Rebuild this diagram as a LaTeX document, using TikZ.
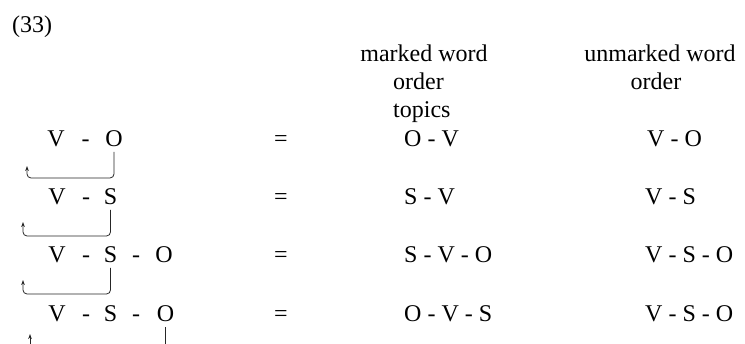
\documentclass[tikz,border=0pt]{standalone}
\usepackage{fontspec}
\setmainfont{Liberation Serif}
\usetikzlibrary{arrows.meta}
\tikzset{
  txt/.style={font=\fontsize{24}{28}\selectfont, inner sep=0pt, anchor=base west},
  ltr/.style={font=\fontsize{24}{28}\selectfont, inner sep=0pt, anchor=base},
  hdr/.style={font=\fontsize{24}{28}\selectfont, inner sep=0pt, anchor=base},
  link/.style={draw=black!85, line width=0.8pt, rounded corners=4pt, shorten <=4.5pt},
  arr/.style={link, -{Stealth[length=5pt,width=3.6pt]}}
}
\begin{document}
\begin{tikzpicture}[x=1pt,y=-1pt]
\useasboundingbox (0,0) rectangle (745,344);
\clip (0,0) rectangle (745,344);
% label
\node[txt] (num) at (12,33) {(33)};
% headers
\node[hdr] (h1) at (424,62) {marked word};
\node[txt] (h2) at (393,90) {order};
\node[txt] (h3) at (393,118) {topics};
\node[hdr] (h4) at (660,62) {unmarked word};
\node[hdr] (h5) at (656,90) {order};
% row 1
\node[ltr] (v1) at (56,147) {V};
\node[ltr] (d1) at (85.5,147) {-};
\node[ltr] (o1) at (114,147) {O};
\node[hdr] (e1) at (281,147) {=};
\node[txt] (m1) at (404,147) {O - V};
\node[txt] (u1) at (647,147) {V - O};
% row 2
\node[ltr] (v2) at (57,205) {V};
\node[ltr] (d2) at (86,205) {-};
\node[ltr] (s2) at (110.5,205) {S};
\node[hdr] (e2) at (281,205) {=};
\node[txt] (m2) at (404,205) {S - V};
\node[txt] (u2) at (645,205) {V - S};
% row 3
\node[ltr] (v3) at (57,263) {V};
\node[ltr] (d3) at (86,263) {-};
\node[ltr] (s3) at (110.5,263) {S};
\node[ltr] (dd3) at (136,263) {-};
\node[ltr] (o3) at (164,263) {O};
\node[hdr] (e3) at (281,263) {=};
\node[txt] (m3) at (404,263) {S - V - O};
\node[txt] (u3) at (645,263) {V - S - O};
% row 4
\node[ltr] (v4) at (57,322) {V};
\node[ltr] (d4) at (86,322) {-};
\node[ltr] (s4) at (110.5,322) {S};
\node[ltr] (dd4) at (136,322) {-};
\node[ltr] (o4) at (165.5,322) {O};
\node[hdr] (e4) at (281,322) {=};
\node[txt] (m4) at (404,322) {O - V - S};
\node[txt] (u4) at (645,322) {V - S - O};
% connector coordinates
\coordinate (c1) at (27,178);
\coordinate (t1) at (27,166);
\coordinate (c2) at (23,236);
\coordinate (t2) at (23,222);
\coordinate (c3) at (23,294);
\coordinate (t3) at (23,280);
\coordinate (b4) at (165.5,360);
\coordinate (a4) at (30,360);
\coordinate (t4) at (30,334);
% connectors
\draw[arr] (o1.south) -- (o1.south |- c1) -- (c1) -- (t1);
\draw[arr] (s2.south) -- (s2.south |- c2) -- (c2) -- (t2);
\draw[arr] (s3.south) -- (s3.south |- c3) -- (c3) -- (t3);
\draw[link] (o4.south) -- (b4);
\draw[arr, shorten <=0pt] (a4) -- (t4);
\end{tikzpicture}
\end{document}
